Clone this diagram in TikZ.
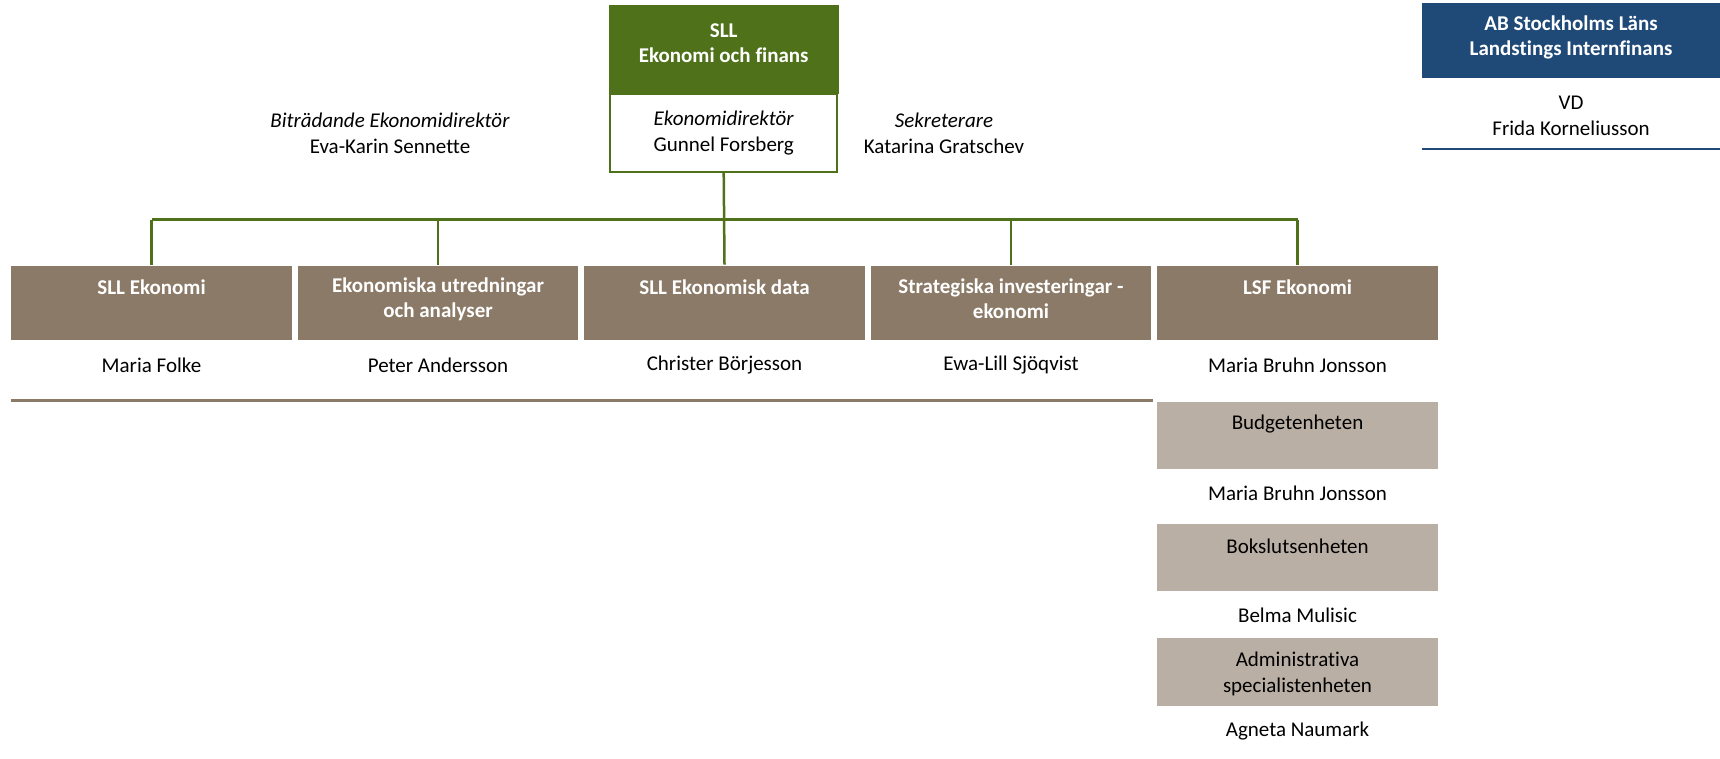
\documentclass[tikz,border=0pt]{standalone}
\usepackage{fontspec}
\setmainfont[Ligatures={NoCommon}]{Carlito}
\definecolor{sllgreen}{HTML}{4E7119}
\definecolor{brownfill}{HTML}{8B7A67}
\definecolor{lightfill}{HTML}{BAAFA4}
\definecolor{darkblue}{HTML}{1F4A78}
\begin{document}
\begin{tikzpicture}[x=1pt,y=-1pt,
  every node/.style={font=\fontsize{21}{24}\selectfont, inner sep=0pt, align=center},
  unitbox/.style={draw=white, line width=0.8pt, fill=brownfill, minimum width=281.5pt, minimum height=75pt},
  subbox/.style={draw=white, line width=0.8pt, fill=lightfill, minimum width=281.5pt, minimum height=68pt},
  boxtxt/.style={text=white, font=\bfseries\fontsize{21}{25}\selectfont},
  subtxt/.style={text=black, font=\fontsize{21}{26}\selectfont},
  nametxt/.style={text=black, font=\fontsize{21}{26}\selectfont},
  conn/.style={draw=sllgreen, line width=2.5pt}]
\useasboundingbox (0,0) rectangle (1720,758);

% top box
\node[fill=sllgreen, draw=sllgreen, line width=0.8pt, minimum width=228.7pt, minimum height=88pt] (top) at (723.7,49) {};
\node[boxtxt] (toptxt) at (723.7,43.5) {SLL\\Ekonomi och finans};
\node[fill=white, draw=sllgreen, line width=2pt, minimum width=227pt, minimum height=78pt] (dir) at (723.7,132.5) {};
\node[nametxt] (dirtxt) at (723.7,133) {\textit{Ekonomidirektör}\\Gunnel Forsberg};

\node[nametxt] (bitr) at (390,133) {\textit{Biträdande Ekonomidirektör}\\Eva-Karin Sennette};
\node[nametxt] (sekr) at (944,133) {\textit{Sekreterare}\\Katarina Gratschev};

% AB box
\node[fill=darkblue, minimum width=298.3pt, minimum height=75pt] (ab) at (1570.85,40.2) {};
\node[boxtxt] (abtxt) at (1571,37.5) {AB Stockholms Läns\\Landstings Internfinans};
\node[nametxt] (vd) at (1571,115.5) {VD\\Frida Korneliusson};
\coordinate (bl1) at (1421.7,149);
\coordinate (bl2) at (1720,149);
\draw[darkblue, line width=2pt] (bl1) -- (bl2);

% unit boxes
\node[unitbox] (u1) at (151.5,302.5) {};
\node[unitbox] (u2) at (438,302.5) {};
\node[unitbox] (u3) at (724.5,302.5) {};
\node[unitbox] (u4) at (1011,302.5) {};
\node[unitbox] (u5) at (1297.5,302.5) {};

\node[boxtxt] (u1t) at (151.5,287) {SLL Ekonomi};
\node[boxtxt] (u2t) at (438,299) {Ekonomiska utredningar\\och analyser};
\node[boxtxt] (u3t) at (724.5,287) {SLL Ekonomisk data};
\node[boxtxt] (u4t) at (1011,299) {Strategiska investeringar -\\ekonomi};
\node[boxtxt] (u5t) at (1297.5,287) {LSF Ekonomi};

\node[nametxt] (n1) at (151.5,365) {Maria Folke};
\node[nametxt] (n2) at (438,365) {Peter Andersson};
\node[nametxt] (n3) at (724.5,365) {Christer Börjesson};
\node[nametxt] (n4) at (1011,365) {Ewa-Lill Sjöqvist};
\node[nametxt] (n5) at (1297.5,365) {Maria Bruhn Jonsson};

% connectors
\coordinate (bus) at (0,219.5);
\draw[conn] (u1.north |- bus) -- (u5.north |- bus);
\draw[conn] (dir.south) -- (u3.north);
\draw[conn] (u1.north |- bus) -- (u1.north);
\draw[conn] (u2.north |- bus) -- (u2.north);
\draw[conn] (u4.north |- bus) -- (u4.north);
\draw[conn] (u5.north |- bus) -- (u5.north);

% brown rule
\coordinate (br1) at (10.7,400);
\coordinate (br2) at (1153,400);
\draw[brownfill, line width=3pt] (br1) -- (br2);

% sub boxes
\node[subbox] (s1) at (1297.5,435.5) {};
\node[subbox] (s2) at (1297.5,557.7) {};
\node[subbox, minimum height=69pt] (s3) at (1297.5,671.8) {};
\node[subtxt] (s1t) at (1297.5,424) {Budgetenheten};
\node[subtxt] (s2t) at (1297.5,546.5) {Bokslutsenheten};
\node[subtxt] (s3t) at (1297.5,673.5) {Administrativa\\specialistenheten};
\node[nametxt] (m1) at (1297.5,493.5) {Maria Bruhn Jonsson};
\node[nametxt] (m2) at (1297.5,615) {Belma Mulisic};
\node[nametxt] (m3) at (1297.5,731) {Agneta Naumark};
\end{tikzpicture}
\end{document}
